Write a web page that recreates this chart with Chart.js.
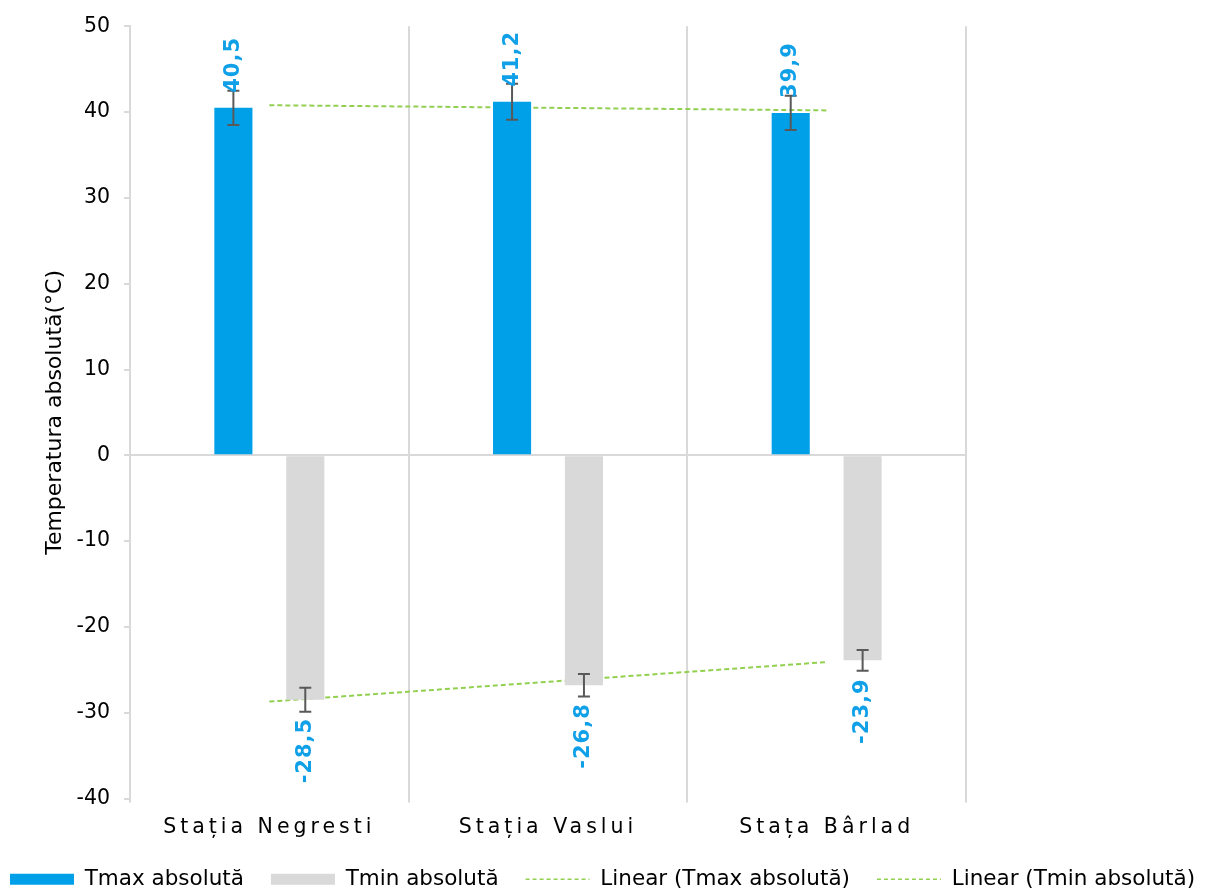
<!DOCTYPE html>
<html>
<head>
<meta charset="utf-8">
<script src="https://cdn.jsdelivr.net/npm/chart.js@4"></script>
<style>
  body { margin: 0; background: #fff; }
</style>
</head>
<body>
<canvas id="chart" width="1205" height="889"></canvas>
<script>
const categories = ['Stația Negresti', 'Stația Vaslui', 'Stața Bârlad'];
const tmax = [40.5, 41.2, 39.9];
const tmin = [-28.5, -26.8, -23.9];
const tmaxErr = [2.0, 2.1, 2.0];
const tminErr = [1.4, 1.3, 1.2];
// capetele liniilor de tendinta
const trendMax = [40.8, null, 40.2];
const trendMin = [-28.7, null, -24.1];

const FONT = 'DejaVu Sans';
const grid = '#d9d9d9';

// bare de eroare
const errorBars = {
    id: 'errorBars',
    afterDatasetsDraw(chart) {
        const ctx = chart.ctx;
        const y = chart.scales.y;
        ctx.save();
        ctx.strokeStyle = '#595959';
        ctx.lineWidth = 2;
        chart.data.datasets.forEach((ds, i) => {
            if (!ds.errors) return;
            chart.getDatasetMeta(i).data.forEach((bar, j) => {
                const v = ds.data[j], e = ds.errors[j];
                const y1 = y.getPixelForValue(v + e), y2 = y.getPixelForValue(v - e);
                ctx.beginPath();
                ctx.moveTo(bar.x, y1); ctx.lineTo(bar.x, y2);
                ctx.moveTo(bar.x - 6, y1); ctx.lineTo(bar.x + 6, y1);
                ctx.moveTo(bar.x - 6, y2); ctx.lineTo(bar.x + 6, y2);
                ctx.stroke();
            });
        });
        ctx.restore();
    }
};

// etichete de date, rotite
const dataLabels = {
    id: 'dataLabels',
    afterDatasetsDraw(chart) {
        const ctx = chart.ctx;
        ctx.save();
        ctx.font = 'bold 21px "' + FONT + '"';
        ctx.letterSpacing = '1px';
        ctx.fillStyle = '#0fa0e8';
        ctx.textBaseline = 'middle';
        chart.data.datasets.forEach((ds, i) => {
            if (ds.type !== 'bar') return;
            chart.getDatasetMeta(i).data.forEach((bar, j) => {
                const v = ds.data[j];
                const txt = v.toFixed(1).replace('.', ',');
                ctx.save();
                if (v >= 0) {
                    ctx.translate(bar.x, bar.y - 15);
                    ctx.rotate(-Math.PI / 2);
                    ctx.textAlign = 'left';
                } else {
                    ctx.translate(bar.x, bar.y + 18);
                    ctx.rotate(-Math.PI / 2);
                    ctx.textAlign = 'right';
                }
                ctx.fillText(txt, 0, 0);
                ctx.restore();
            });
        });
        ctx.restore();
    }
};

// spatiere intre litere pentru etichetele axei X
const spacedLabels = {
    id: 'spacedLabels',
    beforeDraw(chart) {
        const s = chart.scales.x;
        if (s._spaced) return;
        const orig = s.drawLabels.bind(s);
        s.drawLabels = function (area) {
            chart.ctx.save();
            chart.ctx.letterSpacing = '4px';
            orig(area);
            chart.ctx.restore();
        };
        s._spaced = true;
    }
};

const data = {
    labels: categories,
    datasets: [{
        type: 'bar',
        label: 'Tmax absolută',
        data: tmax,
        errors: tmaxErr,
        backgroundColor: '#00a0e9',
        categoryPercentage: 0.516,
        barPercentage: 0.53
    },
    {
        type: 'bar',
        label: 'Tmin absolută',
        data: tmin,
        errors: tminErr,
        backgroundColor: '#d9d9d9',
        categoryPercentage: 0.516,
        barPercentage: 0.53
    },
    {
        type: 'line',
        label: 'Linear (Tmax absolută)',
        data: trendMax,
        spanGaps: true,
        borderColor: '#92d050',
        borderWidth: 2,
        borderDash: [5, 3],
        pointRadius: 0,
        fill: false
    },
    {
        type: 'line',
        label: 'Linear (Tmin absolută)',
        data: trendMin,
        spanGaps: true,
        borderColor: '#92d050',
        borderWidth: 2,
        borderDash: [5, 3],
        pointRadius: 0,
        fill: false
    }]
};

const config = {
    data: data,
    plugins: [errorBars, dataLabels, spacedLabels],
    options: {
        responsive: false,
        animation: false,
        layout: { padding: { top: 25, bottom: -11, left: -30, right: -30 } },
        plugins: {
            tooltip: { enabled: false },
            legend: {
                position: 'bottom',
                labels: {
                    usePointStyle: true,
                    pointStyleWidth: 64,
                    boxHeight: 11,
                    padding: 27,
                    color: '#000',
                    font: { family: FONT, size: 21.5 },
                    generateLabels(chart) {
                        const items = Chart.defaults.plugins.legend.labels.generateLabels(chart);
                        items.forEach((it, i) => {
                            const ds = chart.data.datasets[i];
                            if (ds.type === 'bar') {
                                it.pointStyle = 'rect';
                                it.lineWidth = 0;
                                it.strokeStyle = 'transparent';
                            } else {
                                it.pointStyle = 'line';
                                it.lineWidth = 1.5;
                                it.strokeStyle = '#92d050';
                                it.lineDash = [4, 3];
                            }
                        });
                        return items;
                    }
                }
            }
        },
        scales: {
            x: {
                offset: true,
                grid: { offset: true, color: grid, lineWidth: 2, tickLength: 4 },
                border: { display: false },
                ticks: { color: '#000', padding: 13, font: { family: FONT, size: 20.5 } },
                afterFit: s => { s.height = 43; }
            },
            y: {
                min: -40,
                max: 50,
                ticks: { stepSize: 10, color: '#000', padding: 14, font: { family: FONT, size: 20.5 } },
                grid: {
                    drawOnChartArea: true,
                    color: c => (c.tick && c.tick.value === 0 ? grid : 'transparent'),
                    tickColor: grid,
                    lineWidth: 2,
                    tickLength: 6
                },
                border: { display: true, color: grid, width: 2 },
                title: {
                    display: true,
                    text: 'Temperatura absolută(°C)',
                    color: '#000',
                    font: { family: FONT, size: 22 },
                    padding: { top: 72, bottom: 0 }
                },
                afterFit: s => { s.width = 160; }
            },
            yRight: {
                position: 'right',
                display: true,
                grid: { display: false },
                border: { display: false },
                ticks: { display: false },
                afterFit: s => { s.width = 269; }
            }
        }
    }
};

const myChart = new Chart(document.getElementById('chart'), config);
</script>
</body>
</html>
